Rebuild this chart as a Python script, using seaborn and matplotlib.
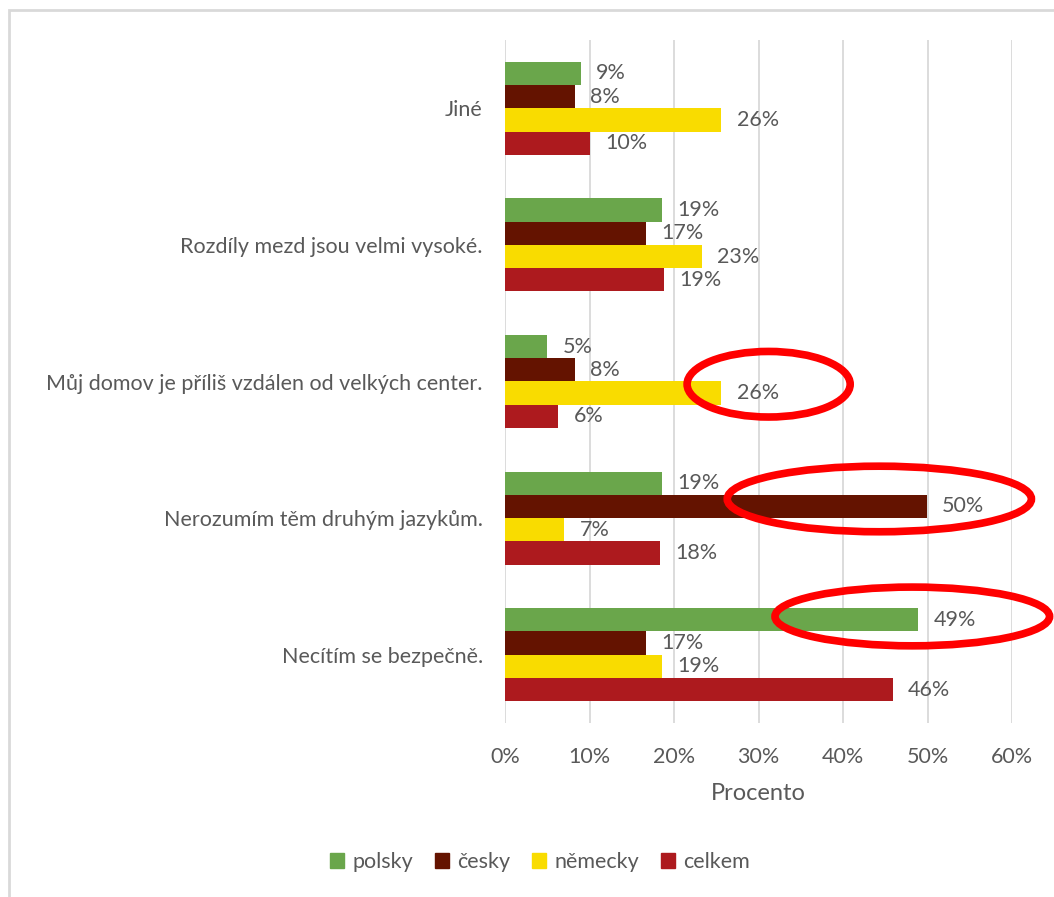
import numpy as np
import pandas as pd
import matplotlib
matplotlib.use("Agg")
import matplotlib.pyplot as plt
import seaborn as sns
from matplotlib.patches import Ellipse, Rectangle
from matplotlib.ticker import FuncFormatter, MultipleLocator

categories = [
    "Jiné",
    "Rozdíly mezd jsou velmi vysoké.",
    "Můj domov je příliš vzdálen od velkých center.",
    "Nerozumím těm druhým jazykům.",
    "Necítím se bezpečně.",
]
series = ["polsky", "česky", "německy", "celkem"]
polsky = [9.0, 18.6, 5.0, 18.6, 48.9]
cesky = [8.3, 16.7, 8.3, 49.9, 16.7]
nemecky = [25.6, 23.3, 25.6, 7.0, 18.6]
celkem = [10.1, 18.8, 6.3, 18.3, 45.9]
colors = ["#6aa64b", "#641300", "#f9dc00", "#ad1a1e"]

# highlighted bars: (category index, series index)
highlights = [(2, 2), (3, 1), (4, 0)]

text_color = "#595959"
grid_color = "#d9d9d9"

sns.set_style("white")
plt.rcParams["font.family"] = ["Lato", "DejaVu Sans"]

df = pd.DataFrame({
    "category": np.repeat(categories, len(series)),
    "series": series * len(categories),
    "value": np.ravel(np.column_stack([polsky, cesky, nemecky, celkem])),
})

fig = plt.figure(figsize=(10.54, 8.97), dpi=100)
ax = fig.add_axes([505 / 1054, 1 - 723 / 897, 507 / 1054, 683 / 897])

sns.barplot(
    data=df, y="category", x="value", hue="series", orient="h",
    palette=colors, width=0.68, saturation=1, linewidth=0, ax=ax,
    order=categories, hue_order=series, errorbar=None,
)

for container in ax.containers:
    ax.bar_label(container, fmt="%.0f%%", padding=11, fontsize=15.5,
                 color=text_color)

ax.set_xlim(0, 60)
ax.set_ylim(4.5, -0.5)
ax.xaxis.set_major_locator(MultipleLocator(10))
ax.xaxis.set_major_formatter(FuncFormatter(lambda v, p: f"{v:.0f}%"))
ax.xaxis.grid(True, color=grid_color, linewidth=1.3)
ax.set_axisbelow(True)
for s in ax.spines.values():
    s.set_visible(False)
ax.tick_params(axis="both", length=0, labelsize=15.5, labelcolor=text_color)
ax.tick_params(axis="y", pad=16)
ax.tick_params(axis="x", pad=17)
ax.set_ylabel("")
ax.set_xlabel("Procento", fontsize=17, color=text_color, labelpad=12)

# red ellipses drawn around highlighted bars: (centre x, y offset, width, height)
bar_h = 0.68 / len(series)
ell_geom = [(31.2, -0.065, 19.3, 0.48), (44.3, -0.055, 36.0, 0.48),
            (48.2, -0.025, 32.5, 0.43)]
for (ci, si), (cx, dy, w, h) in zip(highlights, ell_geom):
    bar_y = ci - 0.34 + bar_h * (si + 0.5)
    ax.add_patch(Ellipse((cx, bar_y + dy), w, h, fill=False,
                         edgecolor="#ff0000", linewidth=5.5, clip_on=False,
                         zorder=5))

ax.legend_.remove()
handles = [Rectangle((0, 0), 1, 1, color=c) for c in colors]
fig.legend(handles, series, loc="center",
           bbox_to_anchor=(540 / 1054, 1 - 862 / 897),
           ncol=4, frameon=False, fontsize=15.5, labelcolor=text_color,
           handlelength=0.65, handleheight=0.65, handletextpad=0.4,
           columnspacing=1.0)

fig.patches.append(Rectangle((9 / 1054, -0.05), 1.2, 1 - 10 / 897 + 0.05,
                             transform=fig.transFigure, fill=False,
                             edgecolor=grid_color, linewidth=2))

fig.savefig("out.png", dpi=100)
